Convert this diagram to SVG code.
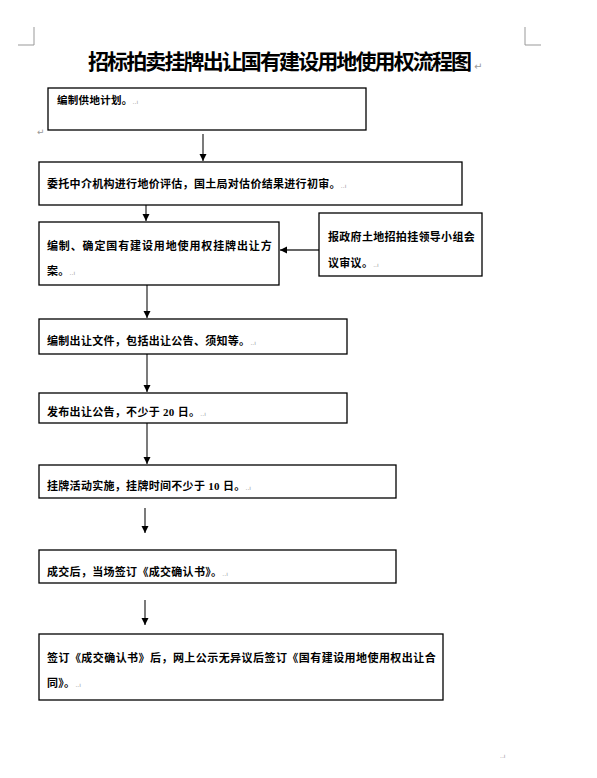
<svg xmlns="http://www.w3.org/2000/svg" width="597" height="778" viewBox="0 0 597 778">
<style>
.box{fill:#fff;stroke:#000;stroke-width:1.3}
.t{font-family:"Liberation Serif","Noto Sans CJK SC",serif;font-size:11px;font-weight:700;fill:#000;letter-spacing:0.3px}
.title{font-family:"Noto Sans CJK SC",sans-serif;font-size:21px;font-weight:700;fill:#000}
.pm{font-family:"DejaVu Sans",sans-serif;font-size:6px;fill:#999;font-weight:400;letter-spacing:0}
.cn{stroke:#333;stroke-width:1.3;fill:none}
.crn{stroke:#999;stroke-width:1;fill:none}
</style>
<defs>
<marker id="ah" markerWidth="8" markerHeight="8" refX="7" refY="4" orient="auto" markerUnits="userSpaceOnUse">
<path d="M0,0.5 L7,4 L0,7.5 Z" fill="#000"/>
</marker>
</defs>
<rect width="597" height="778" fill="#fff"/>
<path class="crn" d="M34,27 V45 H18 M525,27 V45 H541"/>
<text class="title" x="88" y="69" textLength="384">招标拍卖挂牌出让国有建设用地使用权流程图</text>
<text x="474" y="70" class="pm" style="font-size:10px">↵</text>
<text x="37" y="135" class="pm" style="font-size:9px">↵</text>
<text x="500" y="758" class="pm">..ı</text>

<g id="connectors">
<line class="cn" x1="203" y1="134" x2="203" y2="161" marker-end="url(#ah)"/>
<line class="cn" x1="146" y1="205" x2="146" y2="221" marker-end="url(#ah)"/>
<line class="cn" x1="319" y1="250" x2="280" y2="250" marker-end="url(#ah)"/>
<line class="cn" x1="147" y1="285" x2="147" y2="318" marker-end="url(#ah)"/>
<line class="cn" x1="147" y1="354" x2="147" y2="392" marker-end="url(#ah)"/>
<line class="cn" x1="147" y1="423" x2="147" y2="464" marker-end="url(#ah)"/>
<line class="cn" x1="145" y1="508" x2="145" y2="533" marker-end="url(#ah)"/>
<line class="cn" x1="145" y1="600" x2="145" y2="625" marker-end="url(#ah)"/>
</g>

<g id="n1"><rect class="box" x="48" y="88" width="318" height="42"/>
<text class="t" x="57" y="104" style="font-size:10.5px">编制供地计划。<tspan class="pm">..ı</tspan></text></g>

<g id="n2"><rect class="box" x="39" y="162" width="423" height="43"/>
<text class="t" x="47" y="188">委托中介机构进行地价评估，国土局对估价结果进行初审。<tspan class="pm">..ı</tspan></text></g>

<g id="n3"><rect class="box" x="39" y="222" width="240" height="63"/>
<text class="t" x="47" y="250" textLength="225">编制、确定国有建设用地使用权挂牌出让方</text>
<text class="t" x="47" y="275">案。<tspan class="pm">..ı</tspan></text></g>

<g id="n4"><rect class="box" x="319" y="213" width="163" height="63"/>
<text class="t" x="328" y="241" textLength="147">报政府土地招拍挂领导小组会</text>
<text class="t" x="328" y="267">议审议。<tspan class="pm">..ı</tspan></text></g>

<g id="n5"><rect class="box" x="39" y="319" width="308" height="35"/>
<text class="t" x="47" y="345">编制出让文件，包括出让公告、须知等。<tspan class="pm">..ı</tspan></text></g>

<g id="n6"><rect class="box" x="39" y="393" width="308" height="30"/>
<text class="t" x="47" y="416">发布出让公告，不少于 20 日。<tspan class="pm">..ı</tspan></text></g>

<g id="n7"><rect class="box" x="39" y="465" width="357" height="33"/>
<text class="t" x="47" y="490">挂牌活动实施，挂牌时间不少于 10 日。<tspan class="pm">..ı</tspan></text></g>

<g id="n8"><rect class="box" x="39" y="550" width="357" height="33"/>
<text class="t" x="47" y="576">成交后，当场签订《成交确认书》。<tspan class="pm">..ı</tspan></text></g>

<g id="n9"><rect class="box" x="39" y="634" width="404" height="66"/>
<text class="t" x="47" y="662" textLength="389">签订《成交确认书》后，网上公示无异议后签订《国有建设用地使用权出让合</text>
<text class="t" x="47" y="687">同》。<tspan class="pm">..ı</tspan></text></g>
</svg>
